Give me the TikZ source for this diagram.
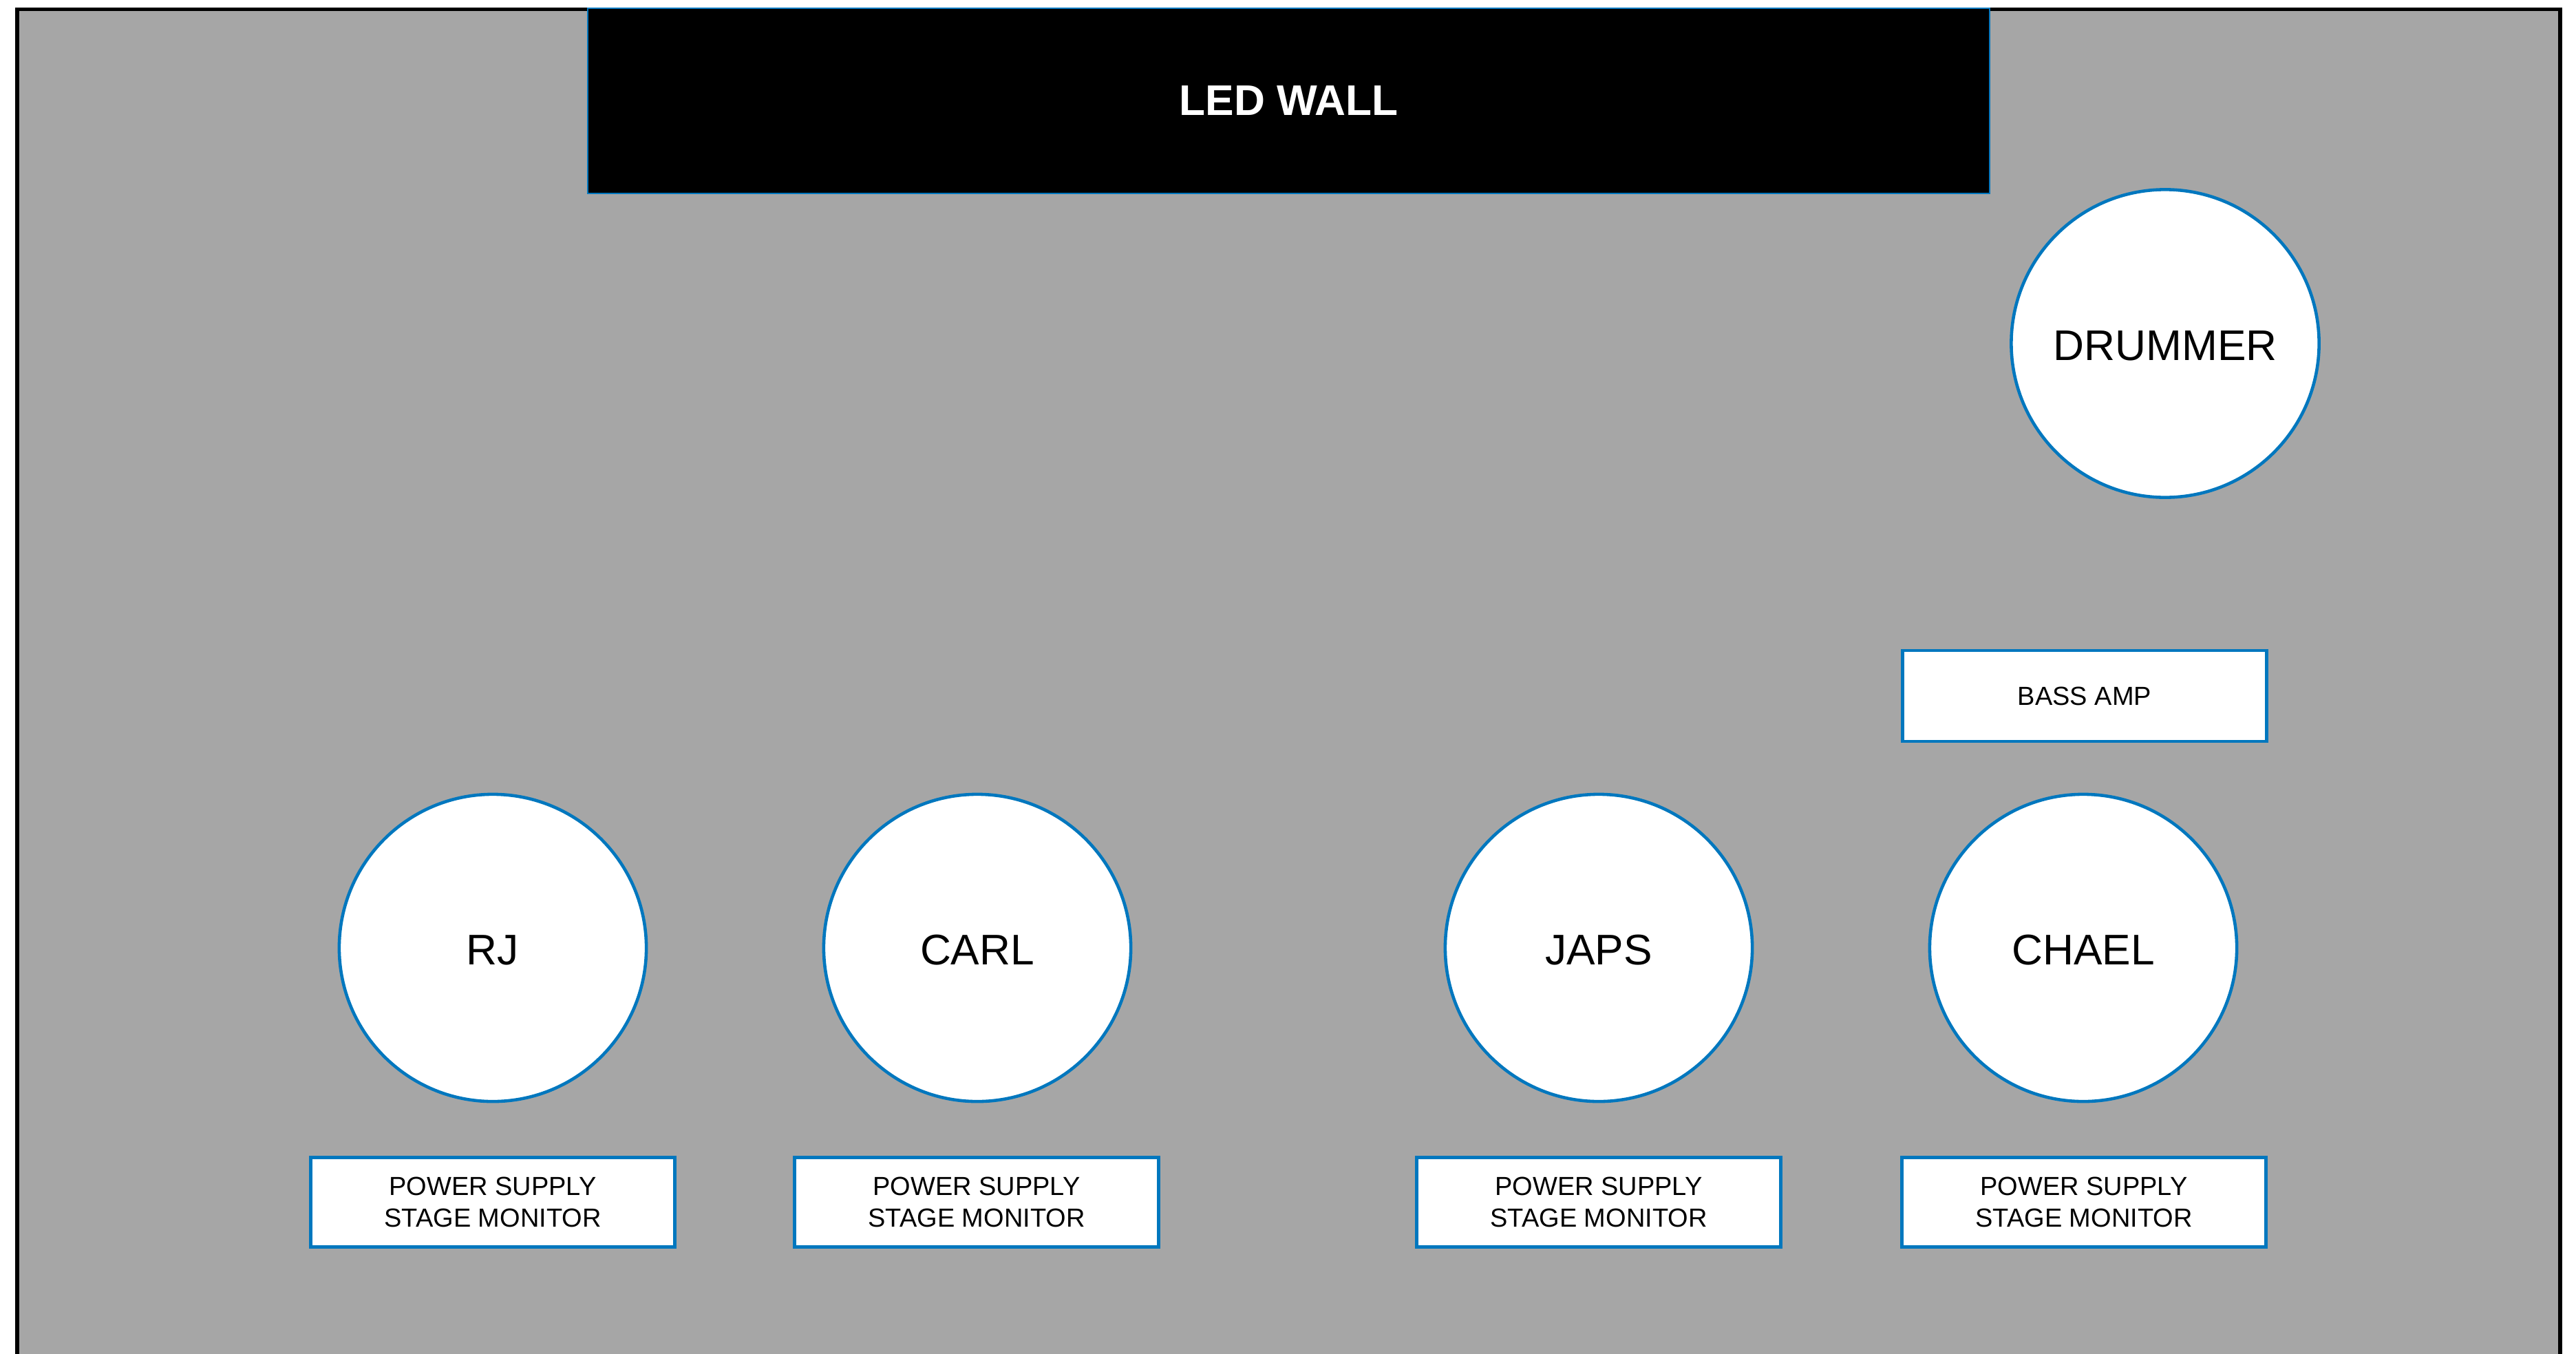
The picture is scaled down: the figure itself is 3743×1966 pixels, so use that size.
\documentclass[tikz,border=0pt]{standalone}
\usepackage{fontspec}
\setmainfont{Liberation Sans}
\definecolor{stageblue}{RGB}{0,119,190}
\definecolor{stagegrey}{RGB}{166,166,166}
\begin{document}
\begin{tikzpicture}[x=0.01cm,y=-0.01cm,
  person/.style={circle, draw=stageblue, fill=white, line width=1.3pt,
    minimum size=4.46cm, inner sep=0pt, text height=14.0pt, text depth=0pt,
    font=\fontsize{17.7}{21}\selectfont},
  gear/.style={rectangle, draw=stageblue, fill=white, line width=1.3pt,
    minimum width=5.29cm, minimum height=1.30cm, inner sep=0pt, align=center,
    font=\fontsize{10.8}{13.1}\selectfont},
  wall/.style={rectangle, draw=stageblue, fill=black, line width=0.6pt,
    minimum width=20.35cm, minimum height=2.69cm, inner sep=0pt,
    text=white, font=\fontsize{17.7}{21}\selectfont\bfseries}]
\useasboundingbox (0,0) rectangle (3743,1966);
\clip (0,0) rectangle (3743,1966);
\fill[white] (0,0) rectangle (3743,1966);
\draw[fill=stagegrey, line width=1.7pt] (25,2100) -- (25,13.5) -- (3720,13.5) -- (3720,2100);

\node[wall] (led) at (1872.5,146.5) {LED WALL};
\node[person, minimum size=4.47cm] (drummer) at (3146,499) {DRUMMER};
\node[gear, minimum height=1.32cm] (bass) at (3029,1011) {BASS AMP};

\node[person] (rj) at (716,1377) {RJ};
\node[person] (carl) at (1420,1377) {CARL};
\node[person] (japs) at (2323,1377) {JAPS};
\node[person] (chael) at (3027,1377) {CHAEL};

\node[gear] (psrj) at (716,1746.5) {POWER SUPPLY\\STAGE MONITOR};
\node[gear] (pscarl) at (1419,1746.5) {POWER SUPPLY\\STAGE MONITOR};
\node[gear] (psjaps) at (2323,1746.5) {POWER SUPPLY\\STAGE MONITOR};
\node[gear] (pschael) at (3028,1746.5) {POWER SUPPLY\\STAGE MONITOR};
\end{tikzpicture}
\end{document}
